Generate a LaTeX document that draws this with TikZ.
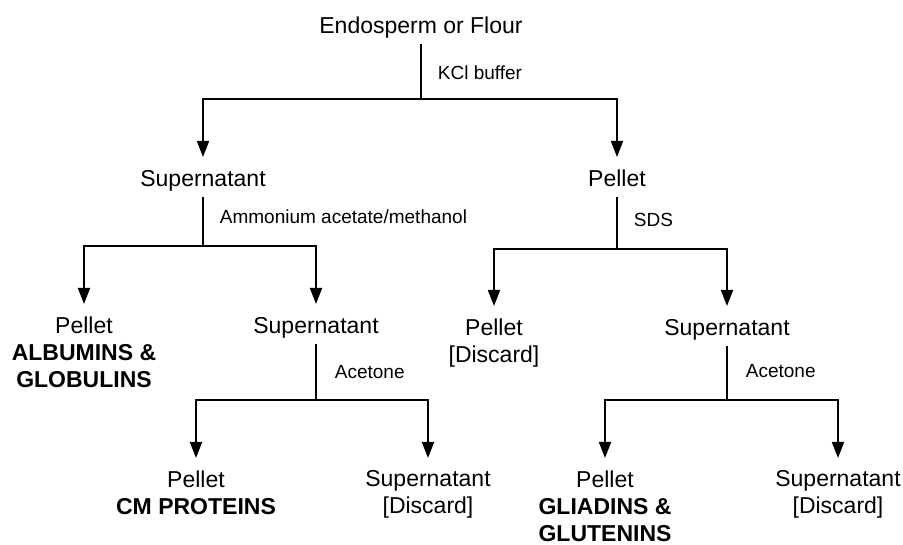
\documentclass[tikz,border=0pt]{standalone}
\usepackage{fontspec}
\setmainfont{Liberation Sans}
\usetikzlibrary{arrows.meta}

\begin{document}
\begin{tikzpicture}[x=1pt,y=-1pt,line width=1.8pt,
		stage/.style={font=\fontsize{23}{27}\selectfont,text height=17pt,text depth=5pt,inner xsep=0pt,inner ysep=4pt},
		leaf/.style={font=\fontsize{23}{27}\selectfont,align=center,inner xsep=0pt,inner ysep=4pt},
		reagent/.style={font=\fontsize{19}{22}\selectfont,right,inner sep=0pt},
		arr/.style={-{Triangle[length=16pt,width=12pt]},shorten >=8pt}]
		\useasboundingbox (0,0) rectangle (903,545);
		%flour
		\node[stage,below] (flour) at (421,12) {Endosperm or Flour};
		\coordinate (kcl) at (421,99);
		\draw (flour.south) -- (kcl);
		\node[reagent] (kcllab) at (437,73) {KCl buffer};
		\node[stage,below] (sup1) at (203,165) {Supernatant};
		\node[stage,below] (pel1) at (617,165) {Pellet};
		\draw[arr] (kcl) -| (sup1.north);
		\draw[arr] (kcl) -| (pel1.north);
		%supernatant
		\coordinate (amm) at (203,246);
		\draw (sup1.south) -- (amm);
		\node[reagent] (ammlab) at (219,217) {Ammonium acetate/methanol};
		\node[leaf,below] (albglo) at (84,312) {Pellet\\\textbf{ALBUMINS \&}\\\textbf{GLOBULINS}};
		\node[stage,below] (sup2) at (316,312) {Supernatant};
		\draw[arr] (amm) -| (albglo.north);
		\draw[arr] (amm) -| (sup2.north);
		\coordinate (ace1) at (316,400);
		\draw (sup2.south) -- (ace1);
		\node[reagent] (ace1lab) at (334,372) {Acetone};
		\node[leaf,below] (cm) at (196,466) {Pellet\\\textbf{CM PROTEINS}};
		\node[leaf,below] (disc1) at (428,466) {Supernatant\\{[Discard]}};
		\draw[arr] (ace1) -| (cm.north);
		\draw[arr] (ace1) -| (disc1.north);
		%pellet
		\coordinate (sds) at (617,249);
		\draw (pel1.south) -- (sds);
		\node[reagent] (sdslab) at (633,220) {SDS};
		\node[leaf,below] (disc2) at (494,314) {Pellet\\{[Discard]}};
		\node[stage,below] (sup3) at (727,314) {Supernatant};
		\draw[arr] (sds) -| (disc2.north);
		\draw[arr] (sds) -| (sup3.north);
		\coordinate (ace2) at (727,400);
		\draw (sup3.south) -- (ace2);
		\node[reagent] (ace2lab) at (745,371) {Acetone};
		\node[leaf,below] (glgl) at (605,466) {Pellet\\\textbf{GLIADINS \&}\\\textbf{GLUTENINS}};
		\node[leaf,below] (disc3) at (838,466) {Supernatant\\{[Discard]}};
		\draw[arr] (ace2) -| (glgl.north);
		\draw[arr] (ace2) -| (disc3.north);
	\end{tikzpicture}
\end{document}
